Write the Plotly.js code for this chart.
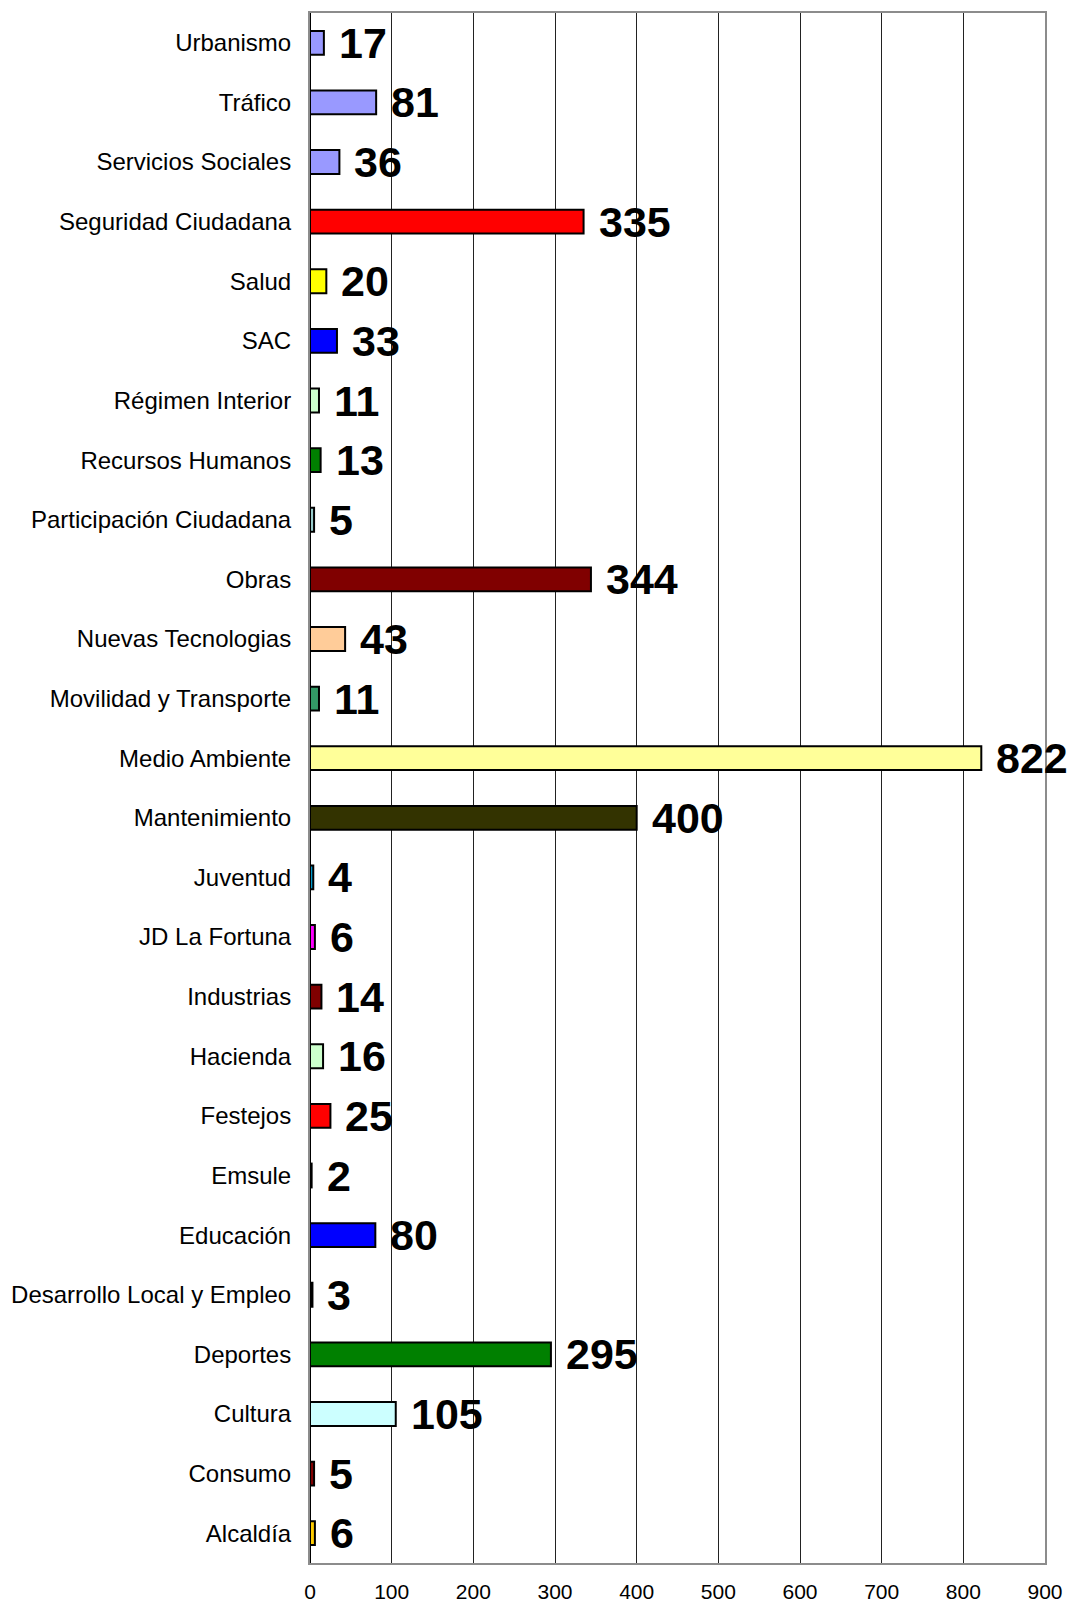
<!DOCTYPE html>
<html>
<head>
<meta charset="utf-8">
<script src="https://cdn.plot.ly/plotly-3.0.1.min.js"></script>
<style>html,body{margin:0;padding:0;background:#fff;}#chart{width:1074px;height:1603px;}</style>
</head>
<body>
<div id="chart"></div>
<script>
const categories = ["Urbanismo","Tráfico","Servicios Sociales","Seguridad Ciudadana","Salud","SAC","Régimen Interior","Recursos Humanos","Participación Ciudadana","Obras","Nuevas Tecnologias","Movilidad y Transporte","Medio Ambiente","Mantenimiento","Juventud","JD La Fortuna","Industrias","Hacienda","Festejos","Emsule","Educación","Desarrollo Local y Empleo","Deportes","Cultura","Consumo","Alcaldía"];
const values = [17,81,36,335,20,33,11,13,5,344,43,11,822,400,4,6,14,16,25,2,80,3,295,105,5,6];
const colors = ["#9999FF","#9999FF","#9999FF","#FF0000","#FFFF00","#0000FF","#CCFFCC","#008000","#99CCCC","#800000","#FFCC99","#339966","#FFFF99","#333300","#0099CC","#FF00FF","#800000","#CCFFCC","#FF0000","#000000","#0000FF","#000000","#008000","#CCFFFF","#800000","#FFCC00"];
const xTicks = [0,100,200,300,400,500,600,700,800,900];

const font = "Liberation Sans, Arial, sans-serif";

const trace = {
  type: "bar",
  orientation: "h",
  y: categories,
  x: values,
  marker: {color: colors, line: {color: "#000000", width: 2}},
  hoverinfo: "x+y"
};

const annotations = categories.map((c, i) => ({
  x: values[i], y: c, xref: "x", yref: "y",
  text: "<b>" + values[i] + "</b>",
  showarrow: false, xanchor: "left", yanchor: "middle", xshift: 13,
  font: {family: font, size: 43, color: "#000000"}
}));

const layout = {
  width: 1074, height: 1603,
  margin: {l: 310, r: 29, t: 13, b: 40},
  paper_bgcolor: "#ffffff", plot_bgcolor: "#ffffff",
  showlegend: false,
  bargap: 0.6,
  xaxis: {
    range: [0, 900], tickvals: xTicks, ticktext: xTicks.map(String),
    showgrid: true, gridcolor: "#222222", gridwidth: 1,
    zeroline: false, showline: true, mirror: true, linecolor: "#8c8c8c", linewidth: 2,
    ticks: "", ticklabelstandoff: 9,
    tickfont: {family: font, size: 21, color: "#000000"}
  },
  yaxis: {
    type: "category", categoryorder: "array", categoryarray: categories,
    range: [25.5, -0.5],
    showgrid: false, zeroline: false, showline: true, mirror: true, linecolor: "#8c8c8c", linewidth: 2,
    ticks: "", ticklabelstandoff: 12,
    tickfont: {family: font, size: 24, color: "#000000"}
  },
  shapes: [{type: "line", xref: "x", yref: "paper", x0: 0, x1: 0, y0: 0, y1: 1, line: {color: "#000000", width: 2}}],
  annotations: annotations
};

Plotly.newPlot("chart", [trace], layout, {displayModeBar: false, staticPlot: true});
</script>
</body>
</html>
